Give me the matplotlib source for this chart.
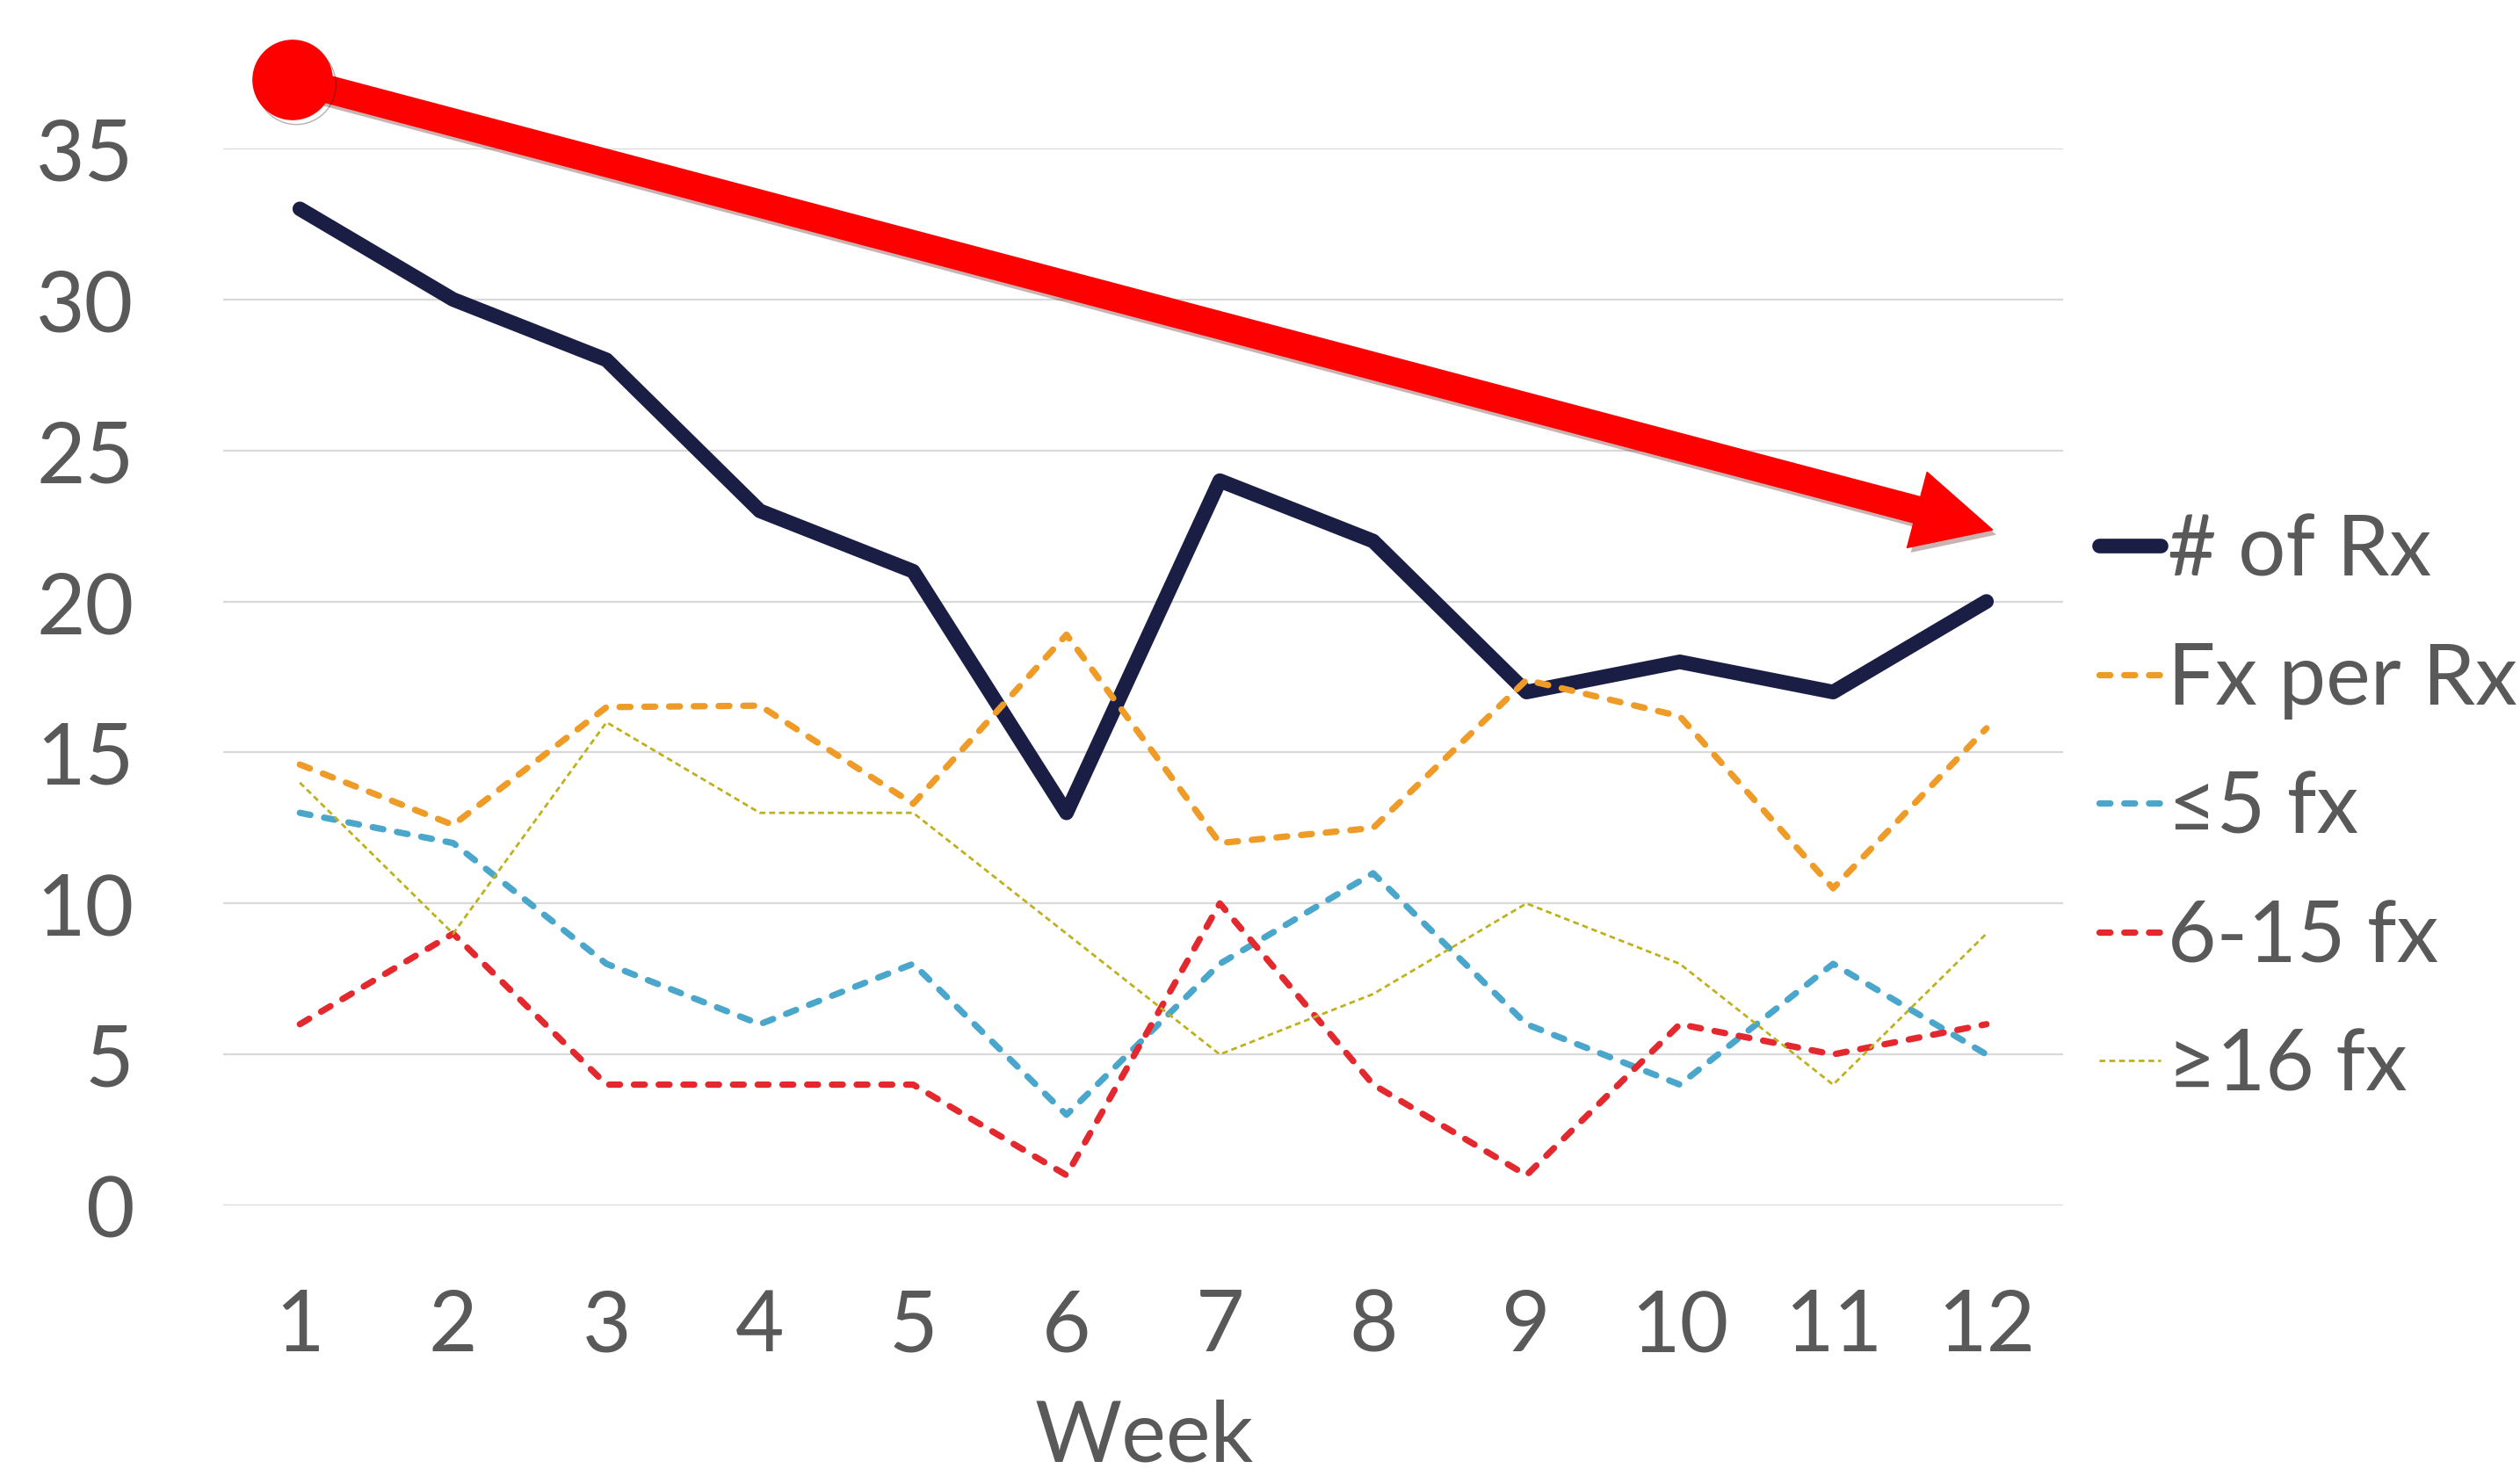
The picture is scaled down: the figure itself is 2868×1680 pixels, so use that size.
import matplotlib
matplotlib.use("Agg")
import matplotlib.pyplot as plt
import matplotlib.patheffects as pe
from matplotlib.patches import FancyArrowPatch

plt.rcParams['font.family'] = ['Lato', 'DejaVu Sans']

weeks = [1, 2, 3, 4, 5, 6, 7, 8, 9, 10, 11, 12]
num_rx = [33, 30, 28, 23, 21, 13, 24, 22, 17, 18, 17, 20]
fx_per_rx = [14.6, 12.6, 16.5, 16.55, 13.3, 18.9, 12.0, 12.5, 17.4, 16.2, 10.5, 15.8]
le5_fx = [13, 12, 8, 6, 8, 3, 8, 11, 6, 4, 8, 5]
fx_6_15 = [6, 9, 4, 4, 4, 1, 10, 4, 1, 6, 5, 6]
ge16_fx = [14, 9, 16, 13, 13, 9, 5, 7, 10, 8, 4, 9]

labels = ['# of Rx', 'Fx per Rx', '≤5 fx', '6-15 fx', '≥16 fx']
text_col = '#595959'

fig = plt.figure(figsize=(28.68, 16.81), dpi=100)
ax = fig.add_axes([0.08856, 0.18322, 0.73014, 0.71565])

ax.plot(weeks, num_rx, color='#1A1E45', lw=12, solid_capstyle='round',
        solid_joinstyle='round', label=labels[0])
ax.plot(weeks, fx_per_rx, color='#EE9B27', lw=5.2, dashes=(1.7, 2.2),
        dash_capstyle='round', dash_joinstyle='round', label=labels[1])
ax.plot(weeks, le5_fx, color='#4BA6CB', lw=5.2, dashes=(1.7, 2.2),
        dash_capstyle='round', dash_joinstyle='round', label=labels[2])
ax.plot(weeks, fx_6_15, color='#E3282E', lw=5.2, dashes=(1.7, 2.2),
        dash_capstyle='round', dash_joinstyle='round', label=labels[3])
ax.plot(weeks, ge16_fx, color='#BFB11E', lw=2.0, dashes=(2.4, 1.6),
        label=labels[4])

ax.set_xlim(0.5, 12.5)
ax.set_ylim(0, 35)
ax.set_xticks(weeks)
ax.set_yticks(range(0, 36, 5))
ax.tick_params(axis='both', length=0, labelsize=69, labelcolor=text_col)
ax.tick_params(axis='x', pad=68)
ax.tick_params(axis='y', pad=73)
ax.grid(axis='y', color='#D9D9D9', lw=1.6)
ax.set_axisbelow(True)
for s in ax.spines.values():
    s.set_visible(False)

fig.text(0.454, 0.0, 'Week', ha='center', va='bottom', fontsize=69, color=text_col)

leg = ax.legend(loc='upper left', bbox_to_anchor=(2389 / 2868, 1 - 585 / 1681),
                bbox_transform=fig.transFigure, frameon=False, fontsize=69,
                handlelength=0.73, handletextpad=0.08, labelspacing=0.61,
                borderpad=0, borderaxespad=0)
for t in leg.get_texts():
    t.set_color(text_col)

# red trend arrow
shadow = [pe.SimplePatchShadow(offset=(3, -4), alpha=0.3), pe.Normal()]
arrow = FancyArrowPatch((0.953, 37.27), (12.04, 22.37),
                        arrowstyle='simple,head_length=64,head_width=64,tail_width=22',
                        mutation_scale=1, color='#FF0000', shrinkA=0, shrinkB=0,
                        clip_on=False, zorder=10)
arrow.set_path_effects(shadow)
ax.add_patch(arrow)
ax.plot([0.953], [37.27], 'o', color='#FF0000', markersize=65, clip_on=False,
        zorder=11, path_effects=[pe.SimpleLineShadow(offset=(3, -4), alpha=0.3), pe.Normal()])

fig.savefig('out.png', dpi=100)
